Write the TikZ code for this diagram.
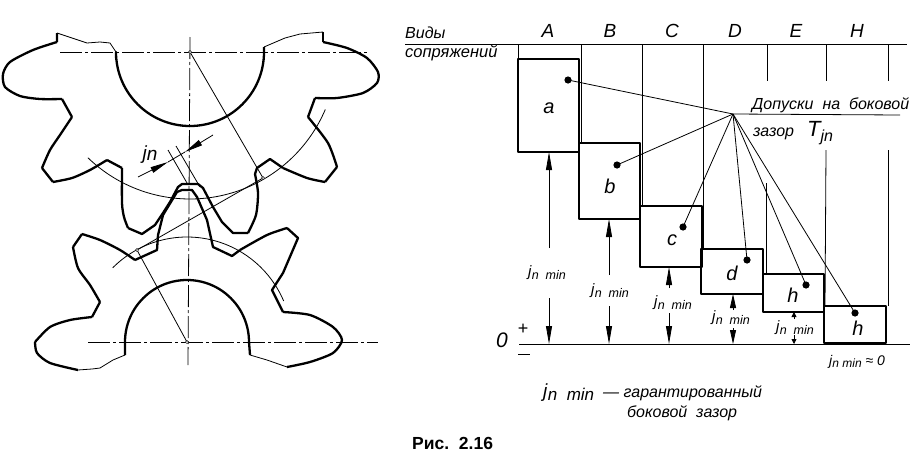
\documentclass[tikz,border=0pt]{standalone}
\usepackage{fontspec}
\setmainfont{Liberation Sans}
\usetikzlibrary{arrows.meta}
\newcommand{\jnmin}{\textit{j}\raisebox{-2.5pt}{\fontsize{12.5}{14}\selectfont\itshape n\ \ min}}
\tikzset{
    thickline/.style={line width=2.3pt, line join=round},
    thinline/.style={line width=0.8pt},
    centerline/.style={line width=0.8pt, dash pattern=on 22pt off 3pt on 3pt off 3pt},
    dimarrow/.style={line width=0.8pt, -{Stealth[inset=0pt, length=18pt, width=6pt]}},
    midarrow/.style={line width=0.8pt, -{Stealth[inset=0pt, length=14pt, width=6pt]}},
    smallarrow/.style={line width=0.8pt, -{Stealth[inset=0pt, length=5pt, width=5pt]}},
    heading/.style={font=\itshape\fontsize{19}{20}\selectfont},
    caption/.style={font=\itshape\fontsize{16}{18}\selectfont, anchor=base west, inner sep=0pt},
    boxtext/.style={font=\itshape\fontsize{20}{22}\selectfont},
    dimtext/.style={font=\fontsize{15}{16}\selectfont}
}
\begin{document}
\begin{tikzpicture}[x=1pt, y=1pt]
    \useasboundingbox (0, 0) rectangle (917, -474);

    % Mittelpunkte der Zahnraeder
    \coordinate (top) at (190, -52);
    \coordinate (bot) at (187, -342);
    \coordinate (ptop) at (263, -178);
    \coordinate (pbot) at (137, -250);

    % Mittellinien
    \draw[centerline] (60, -52) -- (367, -52);
    \draw[centerline] (88, -342) -- (378, -342);
    \draw[centerline] (190, -37) -- (188, -365);

    % Oberes Zahnrad
    \draw[thickline] (57, -33) -- (57, -42) plot[smooth, tension=0.45] coordinates {
        (57, -42) (33, -50) (10, -62) (3, -74) (5, -87) (20, -96) (40, -99) (62, -99)};
    \draw[thickline] (62, -99) -- (72, -117) plot[smooth, tension=0.45] coordinates {
        (72, -117) (60, -135) (50, -150) (42, -168)};
    \draw[thickline] (42, -168) -- (53, -182) plot[smooth, tension=0.45] coordinates {
        (53, -182) (72, -178) (90, -170) (107, -160)};
    \draw[thickline] (107, -160) -- (122, -168) plot[smooth, tension=0.45] coordinates {
        (122, -168) (122, -203) (124, -217) (128, -228)};
    \draw[thickline] (128, -228) -- (142, -234) -- (155, -225) -- (163, -213) -- (170, -202)
        -- (178, -187) -- (182, -184) -- (198, -184) -- (203, -188) -- (213, -207) -- (222, -222)
        -- (233, -233) -- (248, -233);
    \draw[thickline] plot[smooth, tension=0.45] coordinates {
        (248, -233) (256, -215) (258, -193) (255, -174)};
    \draw[thickline] (255, -174) -- (257, -168) -- (270, -159) -- (283, -168);
    \draw[thickline] plot[smooth, tension=0.45] coordinates {
        (283, -168) (307, -178) (325, -182)};
    \draw[thickline] (325, -182) -- (337, -167) plot[smooth, tension=0.45] coordinates {
        (337, -167) (328, -143) (308, -117)};
    \draw[thickline] (308, -117) -- (315, -98) plot[smooth, tension=0.45] coordinates {
        (315, -98) (337, -98) (363, -93) (377, -83) (378, -72) (367, -58) (347, -48) (323, -42)};
    \draw[thickline] (323, -42) -- (323, -32);
    \draw[thickline] (116, -58) -- (116, -52) arc[start angle=180, end angle=360, radius=74] -- (264, -47);

    % Abgebrochene Kanten oben
    \draw[thinline] (57, -33) -- (87, -43) -- (100, -42) -- (110, -43) -- (116, -52);
    \draw[thinline] (264, -47) -- (285, -38) -- (300, -34) -- (323, -32);

    % Unteres Zahnrad
    \draw[thickline] plot[smooth, tension=0.45] coordinates {
        (35, -342) (50, -327) (70, -320) (92, -317)};
    \draw[thickline] (92, -317) -- (100, -302) plot[smooth, tension=0.45] coordinates {
        (100, -302) (90, -285) (78, -268) (73, -247)};
    \draw[thickline] (73, -247) -- (82, -234) plot[smooth, tension=0.45] coordinates {
        (82, -234) (100, -240) (120, -250) (135, -260)};
    \draw[thickline] (135, -260) -- (157, -250) -- (158, -235) -- (163, -215) -- (177, -192)
        -- (182, -190) -- (192, -190) -- (197, -197) -- (207, -220) -- (213, -247) -- (232, -256)
        -- (240, -250);
    \draw[thickline] plot[smooth, tension=0.45] coordinates {
        (240, -250) (267, -235) (287, -228)};
    \draw[thickline] (287, -228) -- (298, -238) -- (283, -273) -- (272, -290) -- (283, -312);
    \draw[thickline] plot[smooth, tension=0.45] coordinates {
        (283, -312) (310, -315) (333, -327) (342, -340) (333, -353) (310, -362) (287, -367)};
    \draw[thickline] plot[smooth, tension=0.45] coordinates {
        (35, -342) (37, -353) (50, -363) (78, -370)};
    \draw[thickline] (125, -355) -- (125, -342) arc[start angle=180, end angle=0, radius=62] -- (250, -355);

    % Abgebrochene Kanten unten
    \draw[thinline] (78, -370) -- (92, -369) -- (100, -368) -- (113, -360) -- (125, -355);
    \draw[thinline] (250, -355) -- (267, -360) -- (287, -367);

    % Teilkreise
    \draw[thinline] (top) ++(226:147) arc[start angle=226, end angle=337, radius=147];
    \draw[thinline] (bot) ++(135:105) arc[start angle=135, end angle=23, radius=105];

    % Radien und Eingriffslinie
    \draw[thinline] (top) -- (ptop);
    \draw[thinline] (bot) -- (pbot);
    \draw[thinline] (pbot) -- (ptop);
    \foreach \p in {top, bot, ptop, pbot} {
        \fill[white] (\p) circle (1.6);
        \draw[line width=0.5pt] (\p) circle (1.6);
    }

    % Flankenspiel
    \coordinate (ja) at (138, -177);
    \coordinate (jb) at (168, -162);
    \coordinate (jc) at (185, -152);
    \coordinate (jd) at (213, -135);
    \draw[dimarrow] (ja) -- (jb);
    \draw[dimarrow] (jd) -- (jc);
    \draw[thinline] (jb) -- (jc);
    \draw[thinline] (168, -150) -- (187, -183);
    \draw[thinline] (176, -146) -- (200, -187);
    \node[heading] (jn) at (150, -155) {j\raisebox{-1pt}{n}};

    % Kopfzeile
    \draw[thinline] (405, -44) -- (907, -44);
    \node[caption] (viewa) at (405, -38) {Виды};
    \node[caption, font=\itshape\fontsize{16.5}{18}\selectfont] (viewb) at (405, -57) {сопряжений};
    \foreach \t/\x in {A/548, B/610, C/672, D/735, E/796, H/857} {
        \node[heading] (head\t) at (\x, -31) {\t};
    }

    % Senkrechte Linien
    \foreach \x/\y in {518/60, 581/143, 642/206, 703/249} {
        \draw[thinline] (\x, -44) -- (\x, -\y);
    }
    \foreach \x in {767, 826, 888} {
        \draw[thinline] (\x, -44) -- (\x, -81);
    }
    \draw[thinline] (766, -183) -- (766, -274);
    \draw[thinline] (826, -150) -- (825, -306);
    \draw[thinline] (888, -150) -- (888, -306);

    % Toleranzfelder
    \coordinate (hub) at (733, -114);
    \draw[thinline] (hub) -- (900, -115);
    \foreach \n/\xa/\ya/\xb/\yb/\lx/\ly/\t/\dx/\dy in {
        a/518/59/579/152/549/108/a/568/80,
        b/579/143/640/219/610/186/b/617/165,
        c/640/206/702/267/672/240/c/683/227,
        d/701/249/763/294/732/273/d/747/260,
        e/763/274/824/312/793/295/h/806/285,
        f/824/306/886/343/858/328/h/855/313} {
        \draw[thickline] (\xa, -\ya) rectangle (\xb, -\yb);
        \node[boxtext] (lab\n) at (\lx, -\ly) {\t};
        \fill (\dx, -\dy) coordinate (dot\n) circle (3.6);
        \draw[thinline] (hub) -- (dot\n);
    }

    % Nulllinie
    \draw[thinline] (519, -344) -- (910, -344);
    \node[heading, font=\itshape\fontsize{21}{22}\selectfont] (zero) at (502, -340) {0};
    \node[font=\fontsize{18}{18}\selectfont] (plus) at (523, -329) {+};
    \draw[thinline] (518, -354) -- (530, -354);

    % Garantiertes Spiel
    \foreach \n/\x/\ytop/\ya/\yb/\lx/\ly in {
        a/549/152/248/298/547/273,
        b/609/219/275/306/610/291,
        c/669/267/288/313/673/303} {
        \coordinate (up\n) at (\x, -\ytop);
        \coordinate (dn\n) at (\x, -344);
        \draw[dimarrow] (\x, -\ya) -- (up\n);
        \draw[dimarrow] (\x, -\yb) -- (dn\n);
        \node[dimtext] (min\n) at (\lx, -\ly) {\jnmin};
    }
    \draw[midarrow] (733, -310) -- (733, -294);
    \draw[midarrow] (733, -328) -- (733, -344);
    \node[dimtext] (mind) at (731, -318) {\jnmin};
    \draw[smallarrow] (794, -319) -- (794, -312);
    \draw[smallarrow] (794, -335) -- (794, -344);
    \node[dimtext] (mine) at (795, -328) {\jnmin};
    \node[dimtext, font=\fontsize{14}{15}\selectfont] (minf) at (857, -362) {\textit{j}\raisebox{-2pt}{\fontsize{12}{13}\selectfont\itshape n min} \textit{≈ 0}};

    % Beschriftungen
    \node[caption] (tola) at (752, -109) {Допуски\ \ на\ \ боковой};
    \node[caption] (tolb) at (753, -136) {зазор};
    \node[caption, font=\itshape\fontsize{22}{24}\selectfont] (tolc) at (807, -136) {T\raisebox{-5pt}{\fontsize{16}{17}\selectfont jn}};
    \node[caption, font=\fontsize{19}{20}\selectfont] (gara) at (543, -397) {\textit{j}\raisebox{-3pt}{\fontsize{17}{18}\selectfont\itshape n\ \ min}};
    \node[caption] (garb) at (603, -397) {— гарантированный};
    \node[caption] (garc) at (627, -417) {боковой\ \ зазор};
    \node[caption, font=\bfseries\fontsize{17.5}{19}\selectfont] (fig) at (412, -449) {Рис.\ \ 2.16};
\end{tikzpicture}
\end{document}
